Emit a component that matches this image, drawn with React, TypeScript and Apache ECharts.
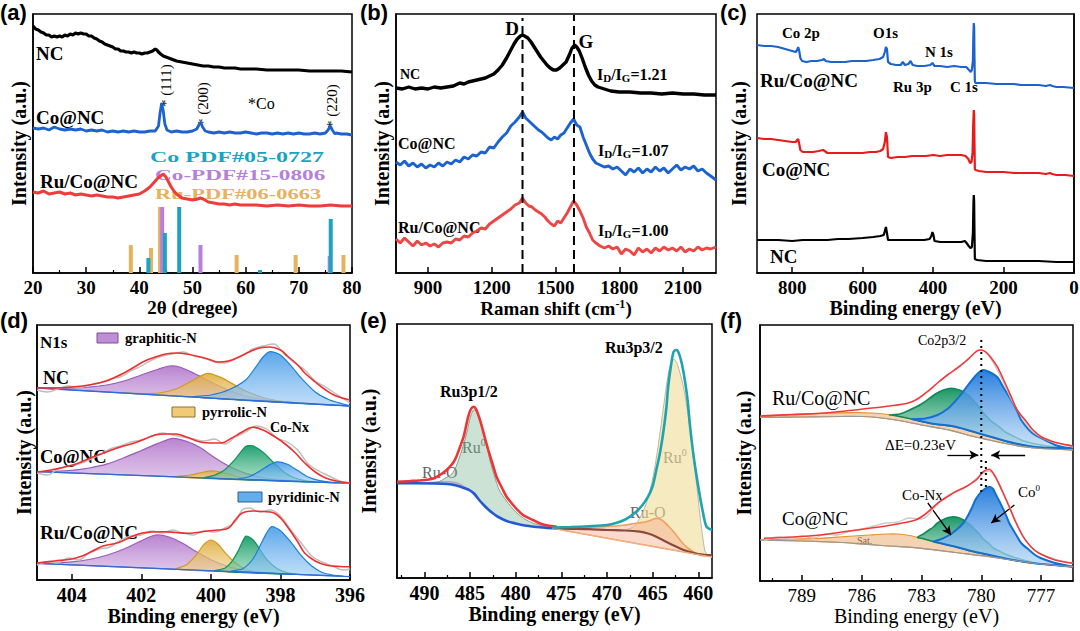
import React, { useEffect, useRef } from 'react';
import * as echarts from 'echarts';

const SERIF = "'Liberation Serif', 'Times New Roman', serif";
const SANS = "'Liberation Sans', Arial, sans-serif";

// ---------------- (a) XRD ----------------
const xrdNC = [[20,247],[20.5,244],[21,243],[21.5,241],[22,240],[22.5,238],[23,238],[23.5,236],[24,237],[24.5,236],[25,237],[25.5,236],[26,238],[26.5,237],[27,239],[27.5,238],[28,240],[28.5,239],[29,240],[29.5,239],[30,239],[30.5,237],[31,237],[31.5,235],[32,234],[32.5,232],[33,231],[33.5,229],[34,228],[34.5,227],[35,226],[35.5,224],[36,224],[36.5,222],[37,222],[37.5,221],[38,221],[38.5,220],[39,221],[39.5,220],[40,220],[40.5,219],[41,220],[41.5,220],[42,221],[42.5,222],[43,224],[43.3,223],[43.6,221],[44,219],[44.5,217],[45,216],[45.5,215],[46,214],[46.5,213],[47,212],[48,211],[49,210],[50,209],[51,208],[52,207],[53,207],[54,206],[55,206],[56,205],[57,205],[58,205],[59,204],[60,204],[62,204],[64,203],[66,203],[68,203],[70,203],[72,202],[74,202],[76,202],[78,202],[80,201]];
const xrdCoNC = [[20,145],[21,144],[22,145],[23,143],[24,146],[25,144],[26,143],[27,144],[28,143],[29,144],[30,142],[31,143],[32,142],[33,143],[34,141],[35,142],[36,141],[37,142],[38,141],[39,142],[40,141],[41,141],[42,142],[43,142],[43.6,147],[43.9,160],[44.2,170],[44.5,162],[44.8,149],[45.2,143],[46,141],[47,142],[48,141],[49,141],[50,142],[50.8,144],[51.3,149],[51.6,150],[51.9,146],[52.4,142],[53,141],[54,140],[55,141],[56,140],[57,141],[58,140],[59,140],[60,141],[61,140],[62,139],[63,140],[64,140],[65,139],[66,140],[67,139],[68,140],[69,139],[70,140],[71,139],[72,139],[73,140],[74,139],[75,140],[75.5,143],[75.9,147],[76.3,143],[76.8,139],[77,140],[78,139],[79,139],[80,138]];
const xrdRuCoNC = [[20,81],[21,80],[22,82],[23,79],[24,80],[25,81],[26,79],[27,80],[28,78],[29,79],[30,78],[31,77],[32,78],[33,77],[34,76],[35,76],[36,75],[37,76],[38,77],[39,78],[40,79],[41,82],[42,86],[42.5,89],[43,92],[43.5,95],[44,97],[44.5,99],[45,96],[45.5,91],[46,86],[46.5,82],[47,79],[47.5,77],[48,75],[49,74],[50,73],[51,74],[51.5,75],[52,74],[53,71],[54,70],[55,69],[56,69],[57,68],[58,69],[59,68],[60,68],[62,68],[64,67],[66,68],[68,67],[70,68],[72,67],[74,67],[76,68],[78,67],[80,67]];
const ruPdf = [[38.4,28],[42.2,25],[43.9,66],[58.3,18],[69.4,18],[78.4,18]];
const co15Pdf = [[44.3,66],[51.5,28],[75.8,17]];
const co05Pdf = [[41.7,15],[44.8,40],[47.5,66],[62.7,3],[76.0,54]];

// ---------------- (b) Raman ----------------
const ramanNC = [[750,185],[780,184],[810,186],[840,184],[870,185],[900,184],[930,186],[960,185],[990,186],[1020,187],[1050,190],[1070,189],[1090,191],[1110,192],[1130,193],[1150,194],[1170,195],[1190,197],[1210,199],[1230,203],[1250,208],[1270,215],[1290,223],[1305,229],[1320,234],[1335,237],[1345,238],[1355,237],[1370,235],[1385,231],[1400,226],[1415,221],[1430,216],[1445,212],[1460,208],[1475,205],[1490,203],[1505,203],[1520,205],[1535,208],[1550,211],[1565,218],[1578,225],[1590,228],[1600,226],[1612,222],[1625,215],[1640,206],[1655,198],[1670,192],[1685,188],[1700,186],[1730,184],[1760,182],[1800,181],[1850,181],[1900,180],[1950,180],[2000,179],[2050,180],[2100,179],[2150,179],[2200,178],[2255,178]];
const ramanCoNC = [[750,111],[770,108],[790,112],[810,107],[830,110],[850,106],[870,109],[890,105],[910,108],[930,106],[950,110],[970,107],[990,111],[1010,109],[1030,113],[1050,111],[1070,116],[1090,114],[1110,118],[1130,117],[1150,121],[1170,120],[1190,126],[1210,125],[1230,131],[1250,136],[1270,140],[1290,147],[1310,151],[1330,156],[1345,161],[1360,155],[1375,152],[1390,149],[1405,146],[1420,143],[1435,141],[1450,138],[1465,135],[1480,133],[1495,136],[1510,134],[1525,138],[1540,140],[1555,145],[1570,150],[1585,154],[1600,148],[1615,146],[1630,136],[1645,128],[1660,120],[1675,114],[1690,110],[1710,108],[1730,106],[1750,107],[1770,104],[1790,106],[1810,102],[1830,98],[1850,104],[1870,101],[1890,105],[1910,100],[1930,104],[1950,101],[1970,106],[1990,102],[2010,105],[2030,100],[2050,104],[2070,108],[2090,103],[2110,106],[2130,104],[2150,107],[2170,102],[2190,104],[2210,100],[2230,97],[2255,93]];
const ramanRuCoNC = [[750,34],[770,30],[790,35],[810,31],[830,27],[850,32],[870,28],[890,30],[910,27],[930,29],[950,26],[970,30],[990,31],[1010,30],[1030,34],[1050,33],[1070,37],[1090,36],[1110,40],[1130,42],[1150,45],[1170,44],[1190,49],[1210,52],[1230,55],[1250,58],[1270,61],[1290,64],[1310,68],[1330,70],[1345,75],[1360,70],[1375,67],[1390,66],[1405,63],[1420,61],[1435,59],[1450,56],[1465,52],[1480,49],[1495,47],[1510,52],[1525,50],[1540,55],[1555,60],[1570,66],[1585,72],[1600,68],[1615,62],[1630,55],[1645,46],[1660,40],[1675,33],[1690,30],[1710,27],[1730,25],[1750,27],[1770,24],[1790,26],[1810,19],[1830,24],[1850,22],[1870,18],[1890,25],[1910,21],[1930,24],[1950,20],[1970,25],[1990,22],[2010,26],[2030,23],[2050,25],[2070,22],[2090,26],[2110,21],[2130,24],[2150,22],[2170,26],[2190,23],[2210,25],[2230,24],[2255,26]];
const ramanDLine = [[1345,0],[1345,255]];
const ramanGLine = [[1587,0],[1587,258]];

// ---------------- (c) XPS survey ----------------
const xpsRuCoNC = [[900,228],[880,227],[860,227],[840,226],[820,224],[800,222],[790,221],[786,223],[783,226],[780,222],[777,215],[772,212],[760,211],[745,212],[730,212],[715,213],[710,214],[705,212],[690,211],[670,211],[650,211],[630,212],[610,212],[590,212],[570,213],[552,214],[542,216],[537,221],[534,226],[531,224],[528,211],[520,209],[505,208],[492,208],[486,211],[480,208],[470,209],[464,212],[458,208],[445,207],[425,207],[408,208],[402,210],[396,207],[380,207],[360,206],[340,207],[320,206],[306,206],[298,203],[293,201],[290,203],[287,212],[285.5,240],[284.5,250],[283.5,246],[282.5,215],[281.5,192],[280,190],[270,190],[250,190],[220,189],[200,189],[170,189],[150,188],[120,188],[100,188],[80,187],[68,188],[62,187],[50,186],[30,186],[0,185]];
const xpsCoNC = [[900,135],[880,134],[860,134],[840,133],[820,132],[800,131],[790,131],[786,133],[783,134],[780,129],[777,123],[770,121],[755,121],[740,121],[725,122],[712,123],[700,120],[680,120],[660,120],[640,120],[620,120],[600,120],[580,121],[562,121],[550,122],[542,124],[537,131],[534,141],[531,136],[528,116],[520,115],[500,116],[480,116],[460,117],[440,117],[420,117],[400,118],[380,117],[360,118],[340,118],[320,118],[308,117],[300,114],[295,110],[291,111],[288,120],[286,150],[284.5,163],[283.5,158],[282.5,130],[281.5,104],[280,103],[270,102],[250,101],[220,101],[200,101],[170,100],[150,100],[120,100],[100,100],[80,99],[68,100],[62,99],[50,98],[25,98],[0,97]];
const xpsNC = [[900,33],[870,33],[840,33],[800,32],[770,33],[740,33],[700,33],[670,34],[640,34],[600,35],[570,36],[550,37],[540,38],[537,42],[534,46],[531,40],[528,33],[510,33],[480,33],[450,33],[425,33],[410,34],[405,37],[402,41],[399,38],[396,32],[380,31],[360,31],[340,31],[320,31],[310,32],[305,30],[299,27],[294,25],[290,26],[287,40],[285.5,70],[284.5,78],[283.5,72],[282.5,40],[281.5,14],[275,13],[250,12],[200,12],[150,12],[100,12],[50,11],[0,11]];

// ---------------- (d) N1s ----------------
const dNCEnvelope = [[405,192],[404.5,192],[404,193],[403.5,195],[403,199],[402.8,202],[402.5,207],[402.2,213],[401.9,219],[401.6,223],[401.3,226],[401,227],[400.7,226],[400.3,223],[400,220],[399.8,218],[399.5,219],[399.2,223],[398.9,228],[398.6,232],[398.3,233],[398,230],[397.8,224],[397.5,215],[397.3,207],[397,198],[396.7,190],[396.4,184],[396,180]];
const dNCRaw = [[405,190],[404.7,188],[404.4,191],[404.1,194],[403.8,192],[403.5,195],[403.2,197],[402.9,201],[402.6,203],[402.3,209],[402,214],[401.7,220],[401.4,224],[401.1,226],[400.8,228],[400.5,224],[400.2,222],[399.9,218],[399.6,217],[399.3,221],[399,226],[398.8,231],[398.5,234],[398.2,236],[397.9,226],[397.6,217],[397.3,210],[397,199],[396.7,193],[396.4,186],[396,177]];
const dNCGraphitic = [[405,192],[404.5,192],[404,192],[403.5,193],[403,195],[402.5,199],[402,205],[401.5,211],[401.2,214],[400.9,213],[400.5,207],[400,198],[399.5,190],[399,184],[398.5,180.5],[398,178.5],[397.5,177],[397,176],[396,174]];
const dNCPyrrolic = [[402.5,187],[402,186.5],[401.5,187],[401,191],[400.5,200],[400.1,206.7],[399.7,202.4],[399.3,194.6],[399,189],[398.5,182.5],[398,179],[397.5,177.3],[397,176]];
const dNCPyridinic = [[400.5,183],[400,185],[399.5,190],[399,200],[398.7,213.4],[398.5,223],[398.3,228.3],[398,225],[397.7,214.4],[397.4,201.8],[397,188],[396.6,180.2],[396.2,175.9],[396,174]];
const dNCBase = [[405,192],[396,174]];
const dCoEnvelope = [[405,108],[404.6,110],[404.2,113],[403.8,117],[403.4,123],[403,128],[402.6,133],[402.2,137],[401.9,141],[401.6,145],[401.3,146],[401,146],[400.7,143],[400.3,138],[400,137],[399.7,137],[399.4,142],[399.1,148],[398.8,152.7],[398.5,150],[398.2,144],[397.9,137],[397.6,128],[397.3,117],[397,108],[396.7,102],[396.4,99],[396,97]];
const dCoRaw = [[405,107],[404.7,105],[404.4,111],[404.1,114],[403.8,116],[403.5,120],[403.2,125],[402.9,131],[402.6,134],[402.3,138],[402,140],[401.7,144],[401.4,147],[401.1,145],[400.8,143],[400.5,141],[400.2,139],[399.9,141],[399.6,136],[399.3,143],[399,148],[398.7,154],[398.4,151],[398.1,142],[397.8,138],[397.5,130],[397.2,116],[396.9,109],[396.6,104],[396.3,99],[396,97]];
const dCoGraphitic = [[405,108.4],[404.5,108.6],[404,109.6],[403.5,112],[403,115.8],[402.5,122.2],[402,129.5],[401.5,136.9],[401.1,141.7],[400.7,138.7],[400.3,132.2],[399.9,122.6],[399.5,114.3],[399,106.6],[398.5,102.5],[398,100.3],[397.5,99],[397,98]];
const dCoPyrrolic = [[401,103.2],[400.6,105],[400.2,108],[399.9,109],[399.5,106],[399.1,102],[398.7,100.2]];
const dCoCoNx = [[400.2,102.2],[399.9,104.6],[399.6,110.2],[399.3,120.8],[399,133.6],[398.8,134.2],[398.5,127.9],[398.2,117.5],[397.9,108.1],[397.6,102.2],[397.3,99.3],[397,98]];
const dCoPyridinic = [[399.2,100.9],[398.9,103.2],[398.6,108.8],[398.3,115.4],[398.1,118.2],[397.8,115.8],[397.5,109.4],[397.2,103],[396.9,99.6],[396.5,97.6],[396.2,97]];
const dCoBase = [[405,108.4],[396,96.7]];
const dRuEnvelope = [[405,17],[404.5,19],[404,21],[403.7,24],[403.4,29],[403.1,34],[402.7,37],[402.3,43],[402,46.7],[401.7,48],[401.4,48.3],[401,47.5],[400.7,46.7],[400.4,47.5],[400.1,49],[399.8,50],[399.5,51.7],[399.3,60],[399.1,67],[398.8,69],[398.5,68.5],[398.2,67.3],[398,62],[397.8,53.3],[397.5,38],[397.3,26.7],[397,19],[396.7,15],[396.3,13.5],[396,13.3]];
const dRuRaw = [[405,15],[404.7,18],[404.4,17],[404.1,22],[403.8,20],[403.5,27],[403.2,31],[402.9,33],[402.6,40],[402.3,44],[402,45],[401.7,49],[401.4,47],[401.1,50],[400.8,47],[400.5,45],[400.2,49],[399.9,48],[399.6,52],[399.3,58],[399.1,70],[398.9,72],[398.6,68],[398.3,70],[398,64],[397.7,50],[397.4,37],[397.1,24],[396.8,18],[396.5,14],[396.2,10],[396,11]];
const dRuGraphitic = [[405,16.7],[404.5,17.2],[404,18.2],[403.5,20.5],[403,24.7],[402.5,31],[402,39.2],[401.6,45],[401.2,43],[400.8,36.5],[400.4,27.9],[400,20.3],[399.5,13.5],[399,9.8],[398.5,7.7],[398,6.3]];
const dRuPyrrolic = [[401,10.8],[400.7,15.3],[400.4,25.9],[400.2,35.6],[400,40],[399.8,36],[399.6,27.7],[399.3,17.3],[399,10.8],[398.7,8.2],[398.4,6.9]];
const dRuCoNx = [[399.9,9.1],[399.6,11.7],[399.4,18.4],[399.2,30.1],[399,43.8],[398.8,40.5],[398.6,31.2],[398.4,20.9],[398.1,11.5],[397.8,7.2],[397.5,5.6]];
const dRuPyridinic = [[399.4,8.9],[399.1,10.9],[398.8,20.5],[398.6,33.2],[398.4,46.9],[398.25,53.3],[398,49.3],[397.7,37.9],[397.4,24.4],[397.1,14],[396.8,7.5],[396.5,5],[396.2,3.8]];
const dRuBase = [[405,16.7],[396,3.3]];

// ---------------- (e) Ru 3p ----------------
const eShirleyLeft = [[493,94.7],[491,94.7],[489,94.5],[487.5,94],[486.5,92.5],[485.5,89.5],[485,87.5],[484.5,84],[484,78],[483.5,73],[483,68.5],[482.5,64.7],[482,61.5],[481,57],[480,54.5],[479,52.5],[478,51.3],[477,50.5],[476,49.7]];
const eShirleyRight = [[476,49.7],[474,49.2],[472,48.8],[470,48],[468,47.5],[466.4,46.3],[465.5,44.5],[464.6,41.3],[463.7,37],[462.8,33],[462,29.5],[461,26.3],[460,24],[459,23],[458.5,22.5]];
const eLinearBg = [[476,49.7],[458.5,21]];
const eRu0Left = [[489.5,94.7],[488.5,96],[487.5,101],[487,104],[486.5,112],[486,125],[485.5,140],[485.2,152],[484.9,163],[484.6,168],[484.3,166.5],[484,160],[483.6,148],[483.2,133],[482.8,117],[482.3,101],[481.8,88],[481,77],[480,66],[479,59],[478,54.5],[477,52],[476,49.7]];
const eRuOLeft = [[490.5,94.7],[489,96],[488,96.5],[487,96.3],[486.3,95],[485.7,92],[485.2,88.5],[484.8,85],[484.3,80]];
const eEnvelopeLeft = [[493,96.3],[491.5,97],[490,98],[489,99.5],[488.3,103],[487.7,107],[487.2,111.3],[486.8,116],[486.5,121.3],[486.1,131],[485.7,141.3],[485.2,161.3],[484.9,169],[484.6,171.3],[484.3,168],[483.8,154.7],[483.4,141],[483,128],[482.5,113],[482.1,101.3],[481.5,90],[481,81.3],[480,70],[479.2,63],[478,57.5],[477.4,54.7],[476.5,52.5],[475.5,51.3]];
const eEnvelopeRight = [[476,50.5],[474,51],[472,51.8],[470,53],[469,55],[468,58.5],[467,64.7],[466.2,72],[465.5,81.3],[465,92],[464.6,108],[464.2,125],[463.8,148],[463.5,170],[463.3,191.3],[463,212],[462.7,226.3],[462.4,228],[462.2,226.3],[461.9,218],[461.6,204.7],[461.2,180],[460.9,151.3],[460.5,121],[460,91.3],[459.5,66],[459.1,51.3],[458.5,48]];
const eRu0Right = [[468,47.5],[467,52],[466.4,60],[465.8,72],[465.3,87],[464.9,104],[464.6,120],[464.2,145],[463.8,172],[463.4,198],[463.1,212],[462.7,218.7],[462.4,216],[462.1,208],[461.6,190],[461.2,168],[460.8,143],[460.5,118],[460.1,87],[459.8,61.3],[459.3,28],[459,23]];
const eRuORight = [[476,49.7],[473,50.5],[470,51.5],[468.2,52.7],[467,54.5],[465.7,56.3],[465,58.5],[464.6,59.7],[464,58],[463.2,51.3],[462.5,44],[461.7,34.7],[461,29],[459.9,23],[458.5,21.3]];

// ---------------- (f) Co 2p3/2 ----------------
const fTopBase = [[791.1,163.5],[789,164],[787,164.5],[786,164.5],[785,163],[784,160],[783,156],[782,152.5],[781.3,149.3],[780.5,145],[779.6,141],[778.8,137.5],[777.9,134.3],[777,132.5],[776,131.5],[775.4,131]];
const fTopSat = [[791.1,164.3],[789.5,166],[788,167.5],[786.5,168.3],[785.5,168],[784.5,166],[783.5,162],[782.5,157.5],[781.3,154.3],[780,147],[778.8,140],[777.9,136],[777,133.5],[775.4,132.7]];
const fTopCoNx = [[784.6,166],[784.1,167],[783.7,170],[783,177],[782.3,187],[781.9,191],[781.5,192.7],[781.1,191],[780.8,188],[780.5,183],[780.2,176],[779.8,166],[779.5,160],[779.1,154],[778.8,149],[778.4,145],[778,141],[777.5,138],[777,136],[776.2,133.5],[775.4,132.7]];
const fTopCo0 = [[783.5,162],[782.8,162.5],[782.2,166],[781.7,172],[781.3,180],[781,187],[780.7,195],[780.3,205],[780.1,209],[779.9,211],[779.6,209],[779.2,204],[778.9,194],[778.5,181],[778.2,170],[778,161],[777.6,151],[777.3,146],[776.8,141],[776.3,136],[775.8,133.5],[775.4,132.7]];
const fTopEnvelope = [[791.1,165],[789.5,166.5],[788.1,167.7],[786.8,170],[785.6,172.7],[784.6,175],[783.7,177.7],[783.2,182],[782.7,189.3],[782.2,198],[781.7,206],[781.2,213],[780.8,219.3],[780.5,225],[780.2,230.3],[780,231],[779.8,229.3],[779.5,223],[779.2,214.3],[778.9,202],[778.5,184.3],[778.2,171],[777.8,161],[777.4,151],[777,144.3],[776.5,140],[776.1,137.7],[775.4,135]];
const fTopRaw = [[779.6,225],[779.2,211],[778.8,195],[778.4,178],[778,165],[777.6,153],[777.2,146],[776.6,140],[776,137],[775.4,134]];
const fBotBase = [[791.1,41],[789,40],[787,38.5],[786.4,37.7],[785,35.5],[783,32.7],[781.3,28.5],[779.6,24.3],[778,19.5],[777,17],[775.4,14.3]];
const fBotSat = [[791.1,41],[789.5,42],[788.1,42.7],[786.8,44.5],[785.6,46],[784.7,47],[784.2,47],[783.6,45.5],[783,42.7],[782.2,38.5],[781.3,34.3],[780.5,30],[779.6,26],[778.8,22.5],[777.9,19.3],[777,17],[775.4,14.3]];
const fBotCoNx = [[783.2,43.7],[782.9,47],[782.7,50],[782.4,54],[782.2,58],[781.8,62.5],[781.4,64.3],[781.1,63],[780.9,61],[780.6,57],[780.4,53],[780.1,47],[779.9,42],[779.6,37],[779.4,33],[779.1,30],[778.8,27],[778.4,24],[778,21.5],[777.5,19],[777,17],[775.4,14.3]];
const fBotCo0 = [[782.4,39.5],[782,42],[781.6,46],[781.2,52],[780.9,58],[780.7,64.3],[780.5,72],[780.3,81],[780.1,87],[779.9,91],[779.6,94.3],[779.4,92],[779.3,87.7],[779.1,80],[778.8,67.7],[778.6,58],[778.3,47.7],[778,38],[777.6,31],[777.3,26],[777,22.7],[776.3,18],[775.4,14.3]];
const fBotEnvelope = [[790.9,42.7],[789.5,44],[788.1,46],[786.8,49.5],[785.6,52.7],[784.5,56],[783.3,61],[782.8,67],[782.2,77.7],[781.8,83],[781.3,89.3],[780.9,93],[780.5,97.7],[780.2,102],[779.9,109.3],[779.6,111.7],[779.3,104.3],[779,92],[778.6,74.3],[778.3,60],[777.9,44.3],[777.5,34],[777.1,27.7],[776.3,21],[775.4,17.7]];
const fBotRaw = [[790.9,40],[790.2,44],[789.6,42],[789,45],[788.4,43],[787.8,47],[787.2,46],[786.6,50],[786,52],[785.4,55],[784.8,58],[784.2,59],[783.6,63],[783,62],[782.4,72],[781.8,84],[781.2,90],[780.6,96],[780,107],[779.6,110],[779.2,101],[778.8,84],[778.4,66],[778,48],[777.6,36],[777.2,29],[776.6,24],[776,20],[775.4,18]];
const fPeakTop = [[780.0,89],[780.0,243]];
const fPeakBot = [[779.77,94],[779.77,124]];
const fArrowY = 126;

// ---------------- axes ----------------
const gridRects = [[33,14,319,259],[396,14,320,259],[757,14,317,259],[37,325,313,255],[397,324,315,254],[760,325,313,256]];
const xRanges = [[20,80],[750,2255],[0,900],[396,405],[458.5,493],[775.4,791.1]];
const xInverse = [false,false,true,true,true,true];
const majorTicks = [[20,30,40,50,60,70,80],[900,1200,1500,1800,2100],[0,200,400,600,800],[396,398,400,402,404],[460,465,470,475,480,485,490],[777,780,783,786,789]];
const minorTicks = [[25,35,45,55,65,75],[],[],[],[462.5,467.5,472.5,477.5,482.5,487.5,492.5],[778.5,781.5,784.5,787.5,790.5]];
const xNames = ['2θ (dregee)','Raman shift (cm{sup|-1})','Binding energy (eV)','Binding energy (eV)','Binding energy (eV)','Binding energy (eV)'];
const labelSize = [19,19,19,20,20,19];
const labelWeight = ['bold','bold','bold','bold','bold','normal'];
const nameSize = [19,19,20,20,20,20];
const nameWeight = ['bold','bold','bold','bold','bold','normal'];
const yNameGap = [4,4,8,3,18,6];

function within(arr: number[][], a: number, b: number) {
  const lo = Math.min(a, b), hi = Math.max(a, b);
  return arr.filter((p) => p[0] >= lo - 1e-9 && p[0] <= hi + 1e-9);
}

function lineS(gi: number, data: number[][], color: string, width: number, opts: any = {}) {
  return {
    type: 'line', xAxisIndex: gi, yAxisIndex: gi, data, symbol: 'none', showSymbol: false, silent: true,
    smooth: opts.smooth ?? false, clip: true, z: opts.z ?? 5,
    lineStyle: { color, width, type: opts.type ?? 'solid', cap: 'butt', opacity: opts.opacity ?? 1 },
    markLine: opts.markLine,
  };
}

function fillS(gi: number, top: number[][], bottom: number[][], fill: any, stroke: string, lw = 1.2, z = 2) {
  return {
    type: 'custom', xAxisIndex: gi, yAxisIndex: gi, silent: true, clip: true, z,
    data: top,
    renderItem: (params: any, api: any) => {
      if (params.dataIndex !== 0) return null;
      const pts = top.map((p) => api.coord(p)).concat(bottom.slice().reverse().map((p) => api.coord(p)));
      return { type: 'polygon', shape: { points: pts, smooth: 0.25 }, style: { fill, stroke, lineWidth: lw } };
    },
  };
}

function grad(c1: string, c2: string) {
  return new echarts.graphic.LinearGradient(0, 0, 0, 1, [{ offset: 0, color: c1 }, { offset: 1, color: c2 }]);
}

function T(x: number, y: number, text: string, size: number, o: any = {}) {
  return {
    type: 'text', x, y, silent: true, rotation: o.rotation ?? 0, scaleX: o.scaleX ?? 1,
    style: {
      text, fill: o.color ?? '#000', fontFamily: o.family ?? SERIF, fontWeight: o.weight ?? 'bold', fontSize: size,
      align: o.align ?? 'left', verticalAlign: 'middle', rich: o.rich,
    },
  };
}

const ratioRich = {
  m: { fontFamily: SERIF, fontWeight: 'bold', fontSize: 16, fill: '#000' },
  s: { fontFamily: SERIF, fontWeight: 'bold', fontSize: 11, fill: '#000', padding: [8, 0, 0, 0] },
};
const supRich = (size: number, color: string, weight = 'normal') => ({
  m: { fontFamily: SERIF, fontSize: size, fill: color, fontWeight: weight },
  p: { fontFamily: SERIF, fontSize: Math.round(size * 0.6), fill: color, fontWeight: weight, padding: [0, 0, 9, 0] },
});

export default function App() {
  const ref = useRef<HTMLDivElement>(null);
  useEffect(() => {
    if (!ref.current) return;
    const chart = echarts.init(ref.current, undefined, { renderer: 'svg' });

    const grid = gridRects.map((r) => ({
      left: r[0], top: r[1], width: r[2], height: r[3], show: true, borderColor: '#000', borderWidth: 1.5,
      backgroundColor: 'transparent', containLabel: false, outerBoundsMode: 'none',
    }));

    const xMain = gridRects.map((_, i) => ({
      type: 'value', gridIndex: i, position: 'bottom', min: xRanges[i][0], max: xRanges[i][1], inverse: xInverse[i],
      axisLine: { show: true, onZero: false, lineStyle: { color: '#000', width: 1.5 } },
      axisTick: { show: true, inside: true, length: 6, customValues: majorTicks[i], lineStyle: { color: '#000', width: 1.5 } },
      axisLabel: {
        show: true, customValues: majorTicks[i], margin: 5, color: '#000', fontFamily: SERIF, fontWeight: labelWeight[i], fontSize: labelSize[i],
        formatter: (v: number) => String(v),
      },
      splitLine: { show: false },
      name: xNames[i], nameLocation: 'middle', nameGap: 23,
      nameTextStyle: {
        color: '#000', fontFamily: SERIF, fontWeight: nameWeight[i], fontSize: nameSize[i],
        rich: { sup: { fontFamily: SERIF, fontWeight: 'bold', fontSize: 12, color: '#000', padding: [0, 0, 9, 0] } },
      },
    }));
    const xMinor = gridRects.map((_, i) => ({
      type: 'value', gridIndex: i, position: 'bottom', min: xRanges[i][0], max: xRanges[i][1], inverse: xInverse[i],
      axisLine: { show: false, onZero: false },
      axisTick: { show: minorTicks[i].length > 0, inside: true, length: 3, customValues: minorTicks[i], lineStyle: { color: '#000', width: 1.2 } },
      axisLabel: { show: false }, splitLine: { show: false },
    }));
    const yAxes = gridRects.map((r, i) => ({
      type: 'value', gridIndex: i, min: 0, max: r[3],
      axisLine: { show: true, lineStyle: { color: '#000', width: 1.5 } },
      axisTick: { show: false }, axisLabel: { show: false }, splitLine: { show: false },
      name: 'Intensity (a.u.)', nameLocation: 'middle', nameGap: yNameGap[i],
      nameTextStyle: { color: '#000', fontFamily: SERIF, fontWeight: 'bold', fontSize: 20 },
    }));

    const TEAL = '#1AA3C2', PURPLE = '#B77FDD', ORANGE = '#E6B25E';
    const barS = (data: number[][], color: string) => ({
      type: 'bar', xAxisIndex: 0, yAxisIndex: 0, data, barWidth: 4, barGap: '-100%', silent: true,
      itemStyle: { color }, z: 3,
    });

    const dPurple = grad('rgba(168,100,196,0.8)', 'rgba(200,160,220,0.55)');
    const dYellow = grad('rgba(222,172,60,0.9)', 'rgba(240,210,140,0.6)');
    const dBlue = grad('rgba(60,150,230,0.85)', 'rgba(150,200,245,0.6)');
    const dGreen = grad('rgba(10,150,95,0.9)', 'rgba(120,205,165,0.6)');
    const fBlue = grad('rgba(30,120,220,0.95)', 'rgba(180,215,245,0.7)');
    const fGreen = grad('rgba(15,145,95,0.95)', 'rgba(190,230,210,0.7)');
    const fSat = 'rgba(235,175,120,0.55)';

    const arrowMark = {
      silent: true, symbol: ['none', 'arrow'], symbolSize: [7, 9], label: { show: false },
      lineStyle: { color: '#000', width: 1.3, type: 'solid' },
      data: [
        [{ coord: [781.7, fArrowY] }, { coord: [780.15, fArrowY] }],
        [{ coord: [777.8, fArrowY] }, { coord: [779.5, fArrowY] }],
        [{ coord: [782.68, 78] }, { coord: [781.52, 46] }],
        [{ coord: [778.34, 76] }, { coord: [779.5, 58] }],
      ],
    };

    const series: any[] = [
      // (a)
      barS(ruPdf, ORANGE), barS(co15Pdf, PURPLE), barS(co05Pdf, TEAL),
      lineS(0, xrdNC, '#000', 3.2), lineS(0, xrdCoNC, '#1C63CF', 2.8), lineS(0, xrdRuCoNC, '#EE3B3B', 3),
      // (b)
      lineS(1, ramanNC, '#000', 3.4), lineS(1, ramanCoNC, '#1C63CF', 2.9), lineS(1, ramanRuCoNC, '#EE4545', 2.9),
      lineS(1, ramanDLine, '#000', 2, { type: [9, 5], z: 6 }), lineS(1, ramanGLine, '#000', 2, { type: [9, 5], z: 6 }),
      // (c)
      lineS(2, xpsRuCoNC, '#1C63CF', 2.2), lineS(2, xpsCoNC, '#E81A1A', 2.2), lineS(2, xpsNC, '#000', 2.2),
      // (d)
      fillS(3, dNCGraphitic, [], dPurple, '#9B5CB8'),
      fillS(3, dNCPyrrolic, [], dYellow, '#CF9A1E'),
      fillS(3, dNCPyridinic, [], dBlue, '#1E7FD8'),
      fillS(3, dCoGraphitic, [], dPurple, '#9B5CB8'),
      fillS(3, dCoPyrrolic, [], dYellow, '#CF9A1E'),
      fillS(3, dCoCoNx, [], dGreen, '#10935A'),
      fillS(3, dCoPyridinic, [], dBlue, '#1E7FD8'),
      fillS(3, dRuGraphitic, [], dPurple, '#9B5CB8'),
      fillS(3, dRuPyrrolic, [], dYellow, '#CF9A1E'),
      fillS(3, dRuCoNx, [], dGreen, '#10935A'),
      fillS(3, dRuPyridinic, [], dBlue, '#1E7FD8'),
      lineS(3, dNCBase, '#2A6FD6', 1.3), lineS(3, dCoBase, '#2A6FD6', 1.3), lineS(3, dRuBase, '#2A6FD6', 1.3),
      lineS(3, dNCRaw, '#BDBDBD', 1.4, { smooth: 0.4 }), lineS(3, dCoRaw, '#BDBDBD', 1.4, { smooth: 0.4 }), lineS(3, dRuRaw, '#BDBDBD', 1.4, { smooth: 0.4 }),
      lineS(3, dNCEnvelope, '#EE2F2F', 1.6, { smooth: 0.4, z: 7 }), lineS(3, dCoEnvelope, '#EE2F2F', 1.6, { smooth: 0.4, z: 7 }), lineS(3, dRuEnvelope, '#EE2F2F', 1.6, { smooth: 0.4, z: 7 }),
      // (e)
      fillS(4, eRuOLeft, within(eShirleyLeft, 490.5, 484.3), 'rgba(220,160,228,0.6)', 'rgba(190,120,200,0.7)', 1),
      fillS(4, eRu0Left, within(eShirleyLeft, 489.5, 476), 'rgba(120,180,145,0.38)', 'rgba(110,140,120,0.8)', 1),
      fillS(4, eRu0Right, within(eShirleyRight, 468, 459), 'rgba(238,220,150,0.6)', 'rgba(170,170,150,0.8)', 1),
      fillS(4, eRuORight, eLinearBg, 'rgba(246,170,140,0.45)', '#F2A060', 1.6, 3),
      lineS(4, eShirleyLeft, '#2459D0', 2.6, { smooth: 0.3 }),
      lineS(4, eShirleyRight, '#8C4A3E', 2.2, { smooth: 0.3 }),
      lineS(4, eLinearBg, '#F2B08A', 1),
      lineS(4, eEnvelopeLeft, '#EE3535', 2.6, { smooth: 0.3, z: 7 }),
      lineS(4, eEnvelopeRight, '#1FA3AE', 2.6, { smooth: 0.3, z: 7 }),
      // (f)
      fillS(5, fTopSat, fTopBase, fSat, '#E8902A', 1.2),
      fillS(5, fTopCoNx, within(fTopSat, 784.6, 775.4), fGreen, '#0F8A55', 1.6),
      fillS(5, fTopCo0, within(fTopSat, 783.5, 775.4), fBlue, '#1470D0', 2),
      fillS(5, fBotSat, fBotBase, fSat, '#E8902A', 1.2),
      fillS(5, fBotCoNx, within(fBotSat, 783.2, 775.4), fGreen, '#0F8A55', 1.6),
      fillS(5, fBotCo0, within(fBotSat, 782.4, 775.4), fBlue, '#1470D0', 2),
      lineS(5, fTopBase, '#9A9A9A', 1.2, { smooth: 0.3 }), lineS(5, fBotBase, '#9A9A9A', 1.2, { smooth: 0.3 }),
      lineS(5, fTopRaw, '#C8C8C8', 1.3, { smooth: 0.4 }), lineS(5, fBotRaw, '#C8C8C8', 1.3, { smooth: 0.4 }),
      lineS(5, fTopEnvelope, '#F03A3A', 1.6, { smooth: 0.3, z: 7 }),
      lineS(5, fBotEnvelope, '#F03A3A', 1.6, { smooth: 0.3, z: 7, markLine: arrowMark }),
      lineS(5, fPeakTop, '#000', 2, { type: [2, 4], z: 8 }), lineS(5, fPeakBot, '#000', 2, { type: [2, 4], z: 8 }),
    ];

    const graphic: any[] = [
      T(0, 12, '(a)', 22, { family: SANS }), T(360, 12, '(b)', 22, { family: SANS }), T(720, 12, '(c)', 22, { family: SANS }),
      T(0, 320, '(d)', 22, { family: SANS }), T(360, 320, '(e)', 22, { family: SANS }), T(720, 320, '(f)', 22, { family: SANS }),
      // (a)
      T(36, 53, 'NC', 19), T(36, 117, 'Co@NC', 19), T(40, 181, 'Ru/Co@NC', 19),
      T(166, 107, '* (111)', 15, { weight: 'normal', rotation: Math.PI / 2 }),
      T(203, 126, '* (200)', 15, { weight: 'normal', rotation: Math.PI / 2 }),
      T(332, 128, '* (220)', 15, { weight: 'normal', rotation: Math.PI / 2 }),
      T(248, 103, '*Co', 16, { weight: 'normal' }),
      T(150, 157, 'Co PDF#05-0727', 15, { color: TEAL, scaleX: 1.6 }),
      T(155, 175, 'Co-PDF#15-0806', 15, { color: PURPLE, scaleX: 1.55 }),
      T(155, 194, 'Ru-PDF#06-0663', 15, { color: ORANGE, scaleX: 1.5 }),
      // (b)
      T(512, 28, 'D', 19, { align: 'center' }), T(586, 41, 'G', 19, { align: 'center' }),
      T(400, 74, 'NC', 14), T(398, 143, 'Co@NC', 16), T(398, 227, 'Ru/Co@NC', 16),
      T(597, 74, '{m|I}{s|D}{m|/I}{s|G}{m|=1.21}', 16, { rich: ratioRich }),
      T(598, 150, '{m|I}{s|D}{m|/I}{s|G}{m|=1.07}', 16, { rich: ratioRich }),
      T(598, 230, '{m|I}{s|D}{m|/I}{s|G}{m|=1.00}', 16, { rich: ratioRich }),
      // (c)
      T(782, 33, 'Co 2p', 15), T(873, 33, 'O1s', 15), T(925, 52, 'N 1s', 15), T(893, 87, 'Ru 3p', 15), T(950, 87, 'C 1s', 15),
      T(760, 80, 'Ru/Co@NC', 19), T(762, 169, 'Co@NC', 19), T(770, 256, 'NC', 19),
      // (d)
      T(40, 342, 'N1s', 17), T(43, 378, 'NC', 18), T(40, 457, 'Co@NC', 18.5), T(40, 532, 'Ru/Co@NC', 19),
      { type: 'rect', shape: { x: 97, y: 333, width: 21, height: 10 }, style: { fill: 'rgba(185,130,210,0.9)', stroke: '#7d4f90', lineWidth: 1 } },
      T(125, 338, 'graphitic-N', 14.5),
      { type: 'rect', shape: { x: 172, y: 407, width: 23, height: 10 }, style: { fill: 'rgba(238,200,110,0.95)', stroke: '#8f7030', lineWidth: 1 } },
      T(202, 412, 'pyrrolic-N', 14.5),
      { type: 'rect', shape: { x: 238, y: 492, width: 24, height: 10 }, style: { fill: 'rgba(90,170,235,0.95)', stroke: '#2f5f8f', lineWidth: 1 } },
      T(268, 497, 'pyridinic-N', 14.5),
      T(270, 427, 'Co-Nx', 14),
      // (e)
      T(440, 391, 'Ru3p1/2', 16), T(605, 347, 'Ru3p3/2', 16),
      T(462, 447, '{m|Ru}{p|0}', 16, { rich: supRich(16, '#666') }),
      T(422, 472, 'Ru-O', 16, { weight: 'normal', color: '#666' }),
      T(663, 457, '{m|Ru}{p|0}', 16, { rich: supRich(16, '#666') }),
      T(630, 512, 'Ru-O', 16, { weight: 'normal', color: '#666' }),
      // (f)
      T(918, 340, 'Co2p3/2', 14, { weight: 'normal' }),
      T(772, 398, 'Ru/Co@NC', 20, { weight: 'normal' }),
      T(782, 518, 'Co@NC', 19, { weight: 'normal' }),
      T(885, 445, 'ΔE=0.23eV', 15, { weight: 'normal' }),
      T(902, 495, 'Co-Nx', 15, { weight: 'normal' }),
      T(1018, 492, '{m|Co}{p|0}', 15, { rich: supRich(15, '#000') }),
      T(857, 540, 'Sat.', 10, { weight: 'normal' }),
    ];

    chart.setOption({
      animation: false,
      backgroundColor: '#fff',
      grid,
      xAxis: [...xMain, ...xMinor],
      yAxis: yAxes,
      series,
      graphic,
    });
    return () => chart.dispose();
  }, []);
  return <div ref={ref} style={{ position: 'fixed', left: 0, top: 0, width: 1080, height: 631, background: '#fff' }} />;
}
